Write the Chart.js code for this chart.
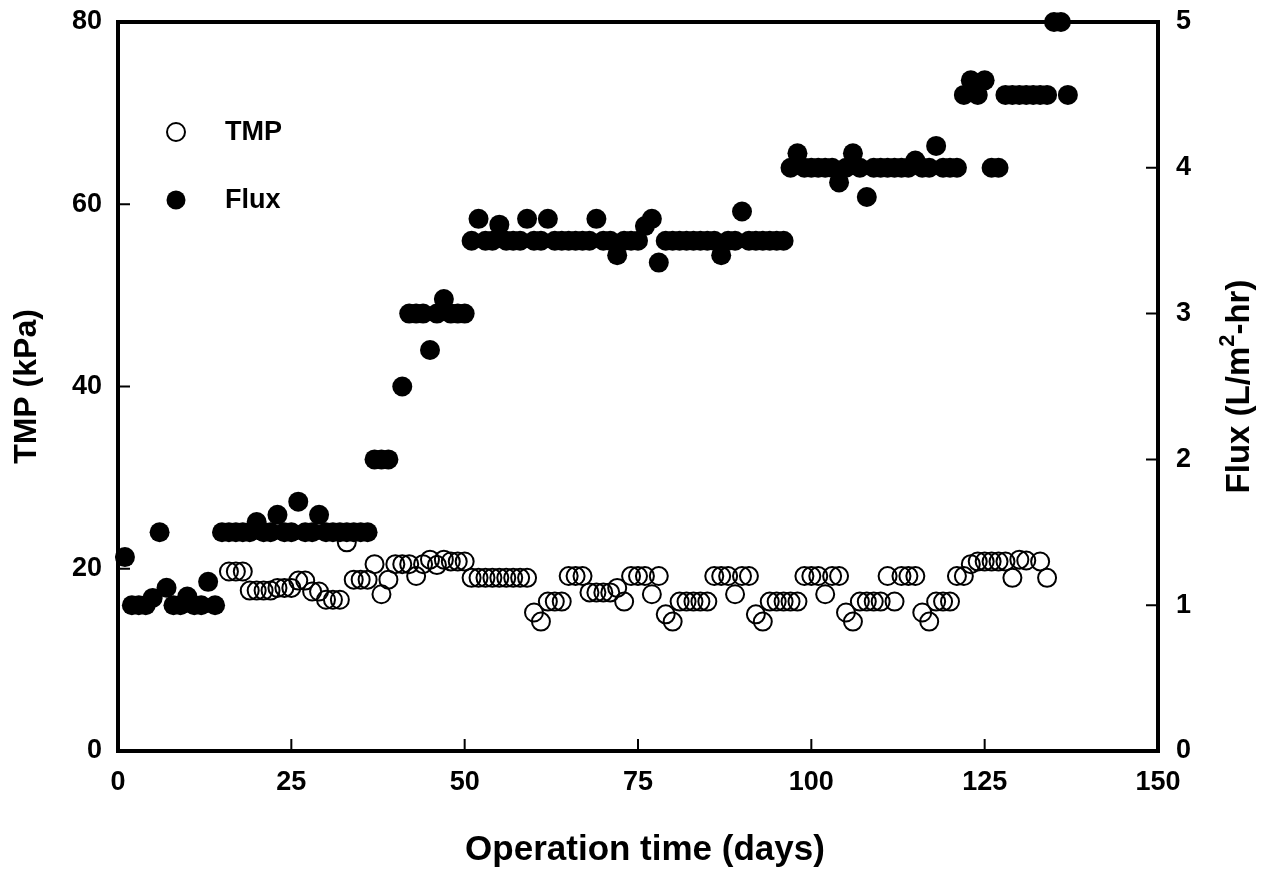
<!DOCTYPE html>
<html>
<head>
<meta charset="utf-8">
<script src="https://cdn.jsdelivr.net/npm/chart.js@4.4.1/dist/chart.umd.min.js"></script>
<style>
  body { margin: 0; background: #fff; }
  #wrap { width: 1275px; height: 870px; position: relative; }
</style>
</head>
<body>
<div id="wrap"><canvas id="chart"></canvas></div>
<script>
// operation day / flux (L/m2-hr)
const fluxDays = [1, 2, 3, 4, 5, 6, 7, 8, 9, 10, 11, 12, 13, 14,
  15, 16, 17, 18, 19, 20, 21, 22, 23, 24, 25, 26, 27, 28, 29, 30, 31, 32, 33, 34, 35, 36,
  37, 38, 39, 41, 42, 43, 44, 45, 46, 47, 48, 49, 50,
  51, 52, 53, 54, 55, 56, 57, 58, 59, 60, 61, 62, 63, 64, 65, 66, 67, 68, 69, 70, 71, 72, 73, 74, 75,
  76, 77, 78, 79, 80, 81, 82, 83, 84, 85, 86, 87, 88, 89, 90, 91, 92, 93, 94, 95, 96,
  97, 98, 99, 100, 101, 102, 103, 104, 105, 106, 107, 108, 109, 110, 111, 112, 113, 114, 115, 116,
  117, 118, 119, 120, 121, 122, 123, 124, 125, 126, 127,
  128, 129, 130, 131, 132, 133, 134, 135, 136, 137];
const fluxValues = [1.33, 1.0, 1.0, 1.0, 1.05, 1.5, 1.12, 1.0, 1.0, 1.06, 1.0, 1.0, 1.16, 1.0,
  1.5, 1.5, 1.5, 1.5, 1.5, 1.57, 1.5, 1.5, 1.62, 1.5, 1.5, 1.71, 1.5, 1.5, 1.62, 1.5, 1.5, 1.5, 1.5, 1.5, 1.5, 1.5,
  2.0, 2.0, 2.0, 2.5, 3.0, 3.0, 3.0, 2.75, 3.0, 3.1, 3.0, 3.0, 3.0,
  3.5, 3.65, 3.5, 3.5, 3.61, 3.5, 3.5, 3.5, 3.65, 3.5, 3.5, 3.65, 3.5, 3.5, 3.5, 3.5, 3.5, 3.5, 3.65, 3.5, 3.5, 3.4, 3.5, 3.5, 3.5,
  3.6, 3.65, 3.35, 3.5, 3.5, 3.5, 3.5, 3.5, 3.5, 3.5, 3.5, 3.4, 3.5, 3.5, 3.7, 3.5, 3.5, 3.5, 3.5, 3.5, 3.5,
  4.0, 4.1, 4.0, 4.0, 4.0, 4.0, 4.0, 3.9, 4.0, 4.1, 4.0, 3.8, 4.0, 4.0, 4.0, 4.0, 4.0, 4.0, 4.05, 4.0,
  4.0, 4.15, 4.0, 4.0, 4.0, 4.5, 4.6, 4.5, 4.6, 4.0, 4.0,
  4.5, 4.5, 4.5, 4.5, 4.5, 4.5, 4.5, 5.0, 5.0, 4.5];

// operation day / TMP (kPa)
const tmpDays = [16, 17, 18, 19, 20, 21, 22, 23, 24, 25, 26, 27, 28, 29, 30, 31, 32, 33, 34, 35, 36,
  37, 38, 39, 40, 41, 42, 43, 44, 45, 46, 47, 48, 49, 50,
  51, 52, 53, 54, 55, 56, 57, 58, 59, 60, 61, 62, 63, 64, 65, 66, 67, 68, 69, 70, 71, 72, 73,
  74, 75, 76, 77, 78, 79, 80, 81, 82, 83, 84, 85, 86, 87, 88, 89, 90, 91, 92, 93,
  94, 95, 96, 97, 98, 99, 100, 101, 102, 103, 104, 105, 106, 107, 108, 109, 110,
  111, 112, 113, 114, 115, 116, 117, 118, 119, 120, 121, 122, 123,
  124, 125, 126, 127, 128, 129, 130, 131, 133, 134];
const tmpValues = [19.7, 19.7, 19.7, 17.6, 17.6, 17.6, 17.6, 17.9, 17.9, 17.9, 18.7, 18.7, 17.5, 17.5, 16.6, 16.6, 16.6, 22.9, 18.8, 18.8, 18.8,
  20.5, 17.2, 18.8, 20.5, 20.5, 20.5, 19.2, 20.5, 21.0, 20.4, 21.0, 20.8, 20.8, 20.8,
  19.0, 19.0, 19.0, 19.0, 19.0, 19.0, 19.0, 19.0, 19.0, 15.2, 14.2, 16.4, 16.4, 16.4, 19.2, 19.2, 19.2, 17.4, 17.4, 17.4, 17.4, 17.9, 16.4,
  19.2, 19.2, 19.2, 17.2, 19.2, 15.0, 14.2, 16.4, 16.4, 16.4, 16.4, 16.4, 19.2, 19.2, 19.2, 17.2, 19.2, 19.2, 15.0, 14.2,
  16.4, 16.4, 16.4, 16.4, 16.4, 19.2, 19.2, 19.2, 17.2, 19.2, 19.2, 15.2, 14.2, 16.4, 16.4, 16.4, 16.4,
  19.2, 16.4, 19.2, 19.2, 19.2, 15.2, 14.2, 16.4, 16.4, 16.4, 19.2, 19.2, 20.5,
  20.8, 20.8, 20.8, 20.8, 20.8, 19.0, 21.0, 20.9, 20.8, 19.0];

const xTicks = [0, 25, 50, 75, 100, 125, 150];
const tmpTicks = [0, 20, 40, 60, 80];
const fluxTicks = [0, 1, 2, 3, 4, 5];

const FONT = "'Liberation Sans', Arial, sans-serif";
const AREA = { left: 118, right: 1158, top: 22, bottom: 751 };

// frame, inward tick marks, titles and legend
const decorPlugin = {
    id: 'decor',
    beforeDatasetsDraw(chart) {
        const ctx = chart.ctx;
        const a = chart.chartArea;
        ctx.save();
        ctx.strokeStyle = '#000';
        ctx.lineWidth = 4;
        ctx.strokeRect(a.left, a.top, a.right - a.left, a.bottom - a.top);
        ctx.lineWidth = 2;
        ctx.beginPath();
        const sx = chart.scales.x;
        xTicks.forEach(v => {
            const p = sx.getPixelForValue(v);
            ctx.moveTo(p, a.bottom);
            ctx.lineTo(p, a.bottom - 12);
        });
        const sy = chart.scales.y;
        tmpTicks.forEach(v => {
            const p = sy.getPixelForValue(v);
            ctx.moveTo(a.left, p);
            ctx.lineTo(a.left + 12, p);
        });
        const sy2 = chart.scales.y2;
        fluxTicks.forEach(v => {
            const p = sy2.getPixelForValue(v);
            ctx.moveTo(a.right, p);
            ctx.lineTo(a.right - 12, p);
        });
        ctx.stroke();
        ctx.restore();
    },
    afterDraw(chart) {
        const ctx = chart.ctx;
        const a = chart.chartArea;
        const cy = (a.top + a.bottom) / 2;
        ctx.save();
        ctx.fillStyle = '#000';

        // x title
        ctx.font = 'bold 35px ' + FONT;
        ctx.textAlign = 'center';
        ctx.textBaseline = 'alphabetic';
        ctx.fillText('Operation time (days)', 645, 860);

        // left title
        ctx.save();
        ctx.translate(27, cy);
        ctx.rotate(-Math.PI / 2);
        ctx.font = 'bold 32px ' + FONT;
        ctx.textBaseline = 'middle';
        ctx.fillText('TMP (kPa)', 0, 0);
        ctx.restore();

        // right title with superscript
        ctx.save();
        ctx.translate(1240, cy);
        ctx.rotate(-Math.PI / 2);
        ctx.textAlign = 'left';
        ctx.textBaseline = 'middle';
        const big = 'bold 33px ' + FONT, small = 'bold 22px ' + FONT;
        const parts = [['Flux (L/m', big, 0], ['2', small, -12], ['-hr)', big, 0]];
        let total = 0;
        parts.forEach(p => { ctx.font = p[1]; total += ctx.measureText(p[0]).width; });
        let x = -total / 2;
        parts.forEach(p => {
            ctx.font = p[1];
            ctx.fillText(p[0], x, p[2]);
            x += ctx.measureText(p[0]).width;
        });
        ctx.restore();

        // legend
        ctx.lineWidth = 2;
        ctx.beginPath();
        ctx.arc(176, 132, 9, 0, Math.PI * 2);
        ctx.stroke();
        ctx.beginPath();
        ctx.arc(176, 200, 9.5, 0, Math.PI * 2);
        ctx.fill();
        ctx.font = 'bold 27px ' + FONT;
        ctx.textAlign = 'left';
        ctx.textBaseline = 'middle';
        ctx.fillText('TMP', 225, 133);
        ctx.fillText('Flux', 225, 201);
        ctx.restore();
    }
};

const tickFont = { family: FONT, size: 27, weight: 'bold' };

new Chart(document.getElementById('chart'), {
    type: 'scatter',
    data: {
        datasets: [{
            label: 'Flux',
            data: fluxDays.map((d, i) => ({ x: d, y: fluxValues[i] })),
            yAxisID: 'y2',
            pointRadius: 10,
            pointBackgroundColor: '#000',
            pointBorderColor: '#000',
            pointBorderWidth: 0,
            clip: false
        }, {
            label: 'TMP',
            data: tmpDays.map((d, i) => ({ x: d, y: tmpValues[i] })),
            yAxisID: 'y',
            pointRadius: 9,
            pointBackgroundColor: 'rgba(0,0,0,0)',
            pointBorderColor: '#000',
            pointBorderWidth: 2,
            clip: false
        }]
    },
    options: {
        responsive: true,
        maintainAspectRatio: false,
        animation: false,
        layout: { padding: { top: AREA.top, left: 0, right: 0, bottom: 0 } },
        plugins: { legend: { display: false }, tooltip: { enabled: false } },
        scales: {
            x: {
                type: 'linear', min: 0, max: 150,
                afterBuildTicks: s => { s.ticks = xTicks.map(v => ({ value: v })); },
                afterFit: s => { s.height = 870 - AREA.bottom; s.paddingLeft = 0; s.paddingRight = 0; },
                grid: { display: false, drawTicks: false },
                border: { display: false },
                ticks: { color: '#000', font: tickFont, padding: 15, maxRotation: 0 }
            },
            y: {
                type: 'linear', position: 'left', min: 0, max: 80,
                afterBuildTicks: s => { s.ticks = tmpTicks.map(v => ({ value: v })); },
                afterFit: s => { s.width = AREA.left; s.paddingTop = 0; s.paddingBottom = 0; },
                grid: { display: false, drawTicks: false },
                border: { display: false },
                ticks: { color: '#000', font: tickFont, padding: 16 }
            },
            y2: {
                type: 'linear', position: 'right', min: 0, max: 5,
                afterBuildTicks: s => { s.ticks = fluxTicks.map(v => ({ value: v })); },
                afterFit: s => { s.width = 1275 - AREA.right; s.paddingTop = 0; s.paddingBottom = 0; },
                grid: { display: false, drawTicks: false },
                border: { display: false },
                ticks: { color: '#000', font: tickFont, padding: 18 }
            }
        }
    },
    plugins: [decorPlugin]
});
</script>
</body>
</html>
